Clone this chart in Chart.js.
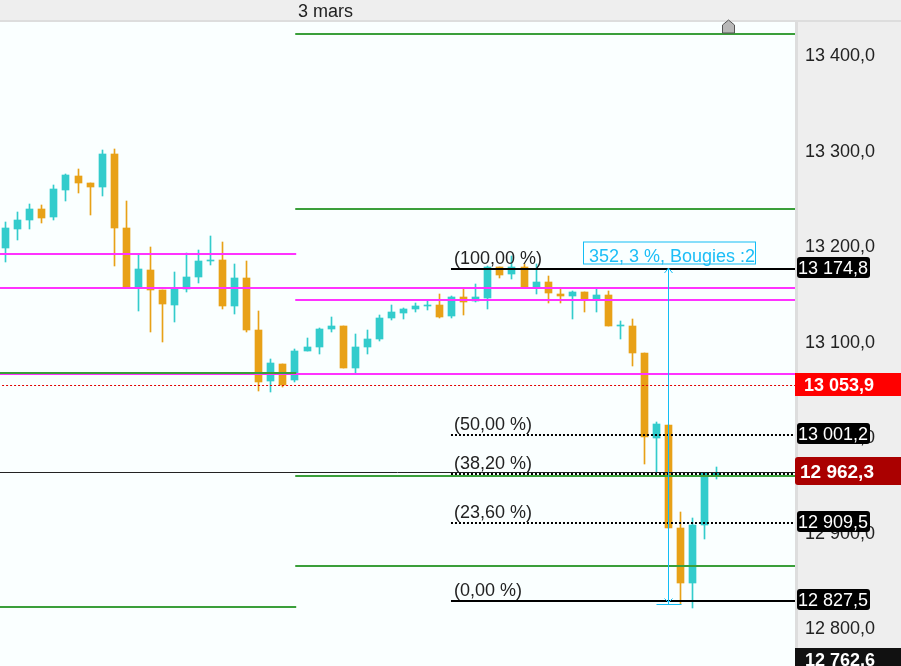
<!DOCTYPE html>
<html lang="fr">
<head>
<meta charset="utf-8">
<title>3 mars</title>
<style>
    html, body { margin: 0; padding: 0; background: #eeeeee; overflow: hidden; }
    canvas { display: block; }
</style>
<script src="https://cdn.jsdelivr.net/npm/chart.js@4/dist/chart.umd.min.js"></script>
</head>
<body>
<canvas id="candleChart" width="901" height="666"></canvas>
<script>
/* ==========================================
   DATA
========================================== */

const opens = [
    13197.1, 13217.0, 13226.4, 13238.0, 13229.6, 13257.9, 13272.5, 13265.2, 13261.0, 13295.5,
    13218.1, 13155.2, 13174.1, 13153.1, 13137.4, 13154.2, 13166.8, 13183.5, 13184.6, 13136.4,
    13165.7, 13111.3, 13057.9, 13075.7, 13058.9, 13089.3, 13093.5, 13112.3, 13115.4, 13071.5,
    13093.5, 13101.8, 13123.8, 13129.1, 13133.2, 13136.4, 13137.4, 13125.9, 13145.8, 13141.6,
    13144.8, 13177.2, 13169.9, 13177.2, 13156.3, 13161.5, 13149.0, 13146.9, 13151.0, 13142.7,
    13147.9, 13115.4, 13115.4, 13087.2, 12998.2, 13011.8, 12903.9, 12846.3, 12907.1, 12959.4
];
const highs = [
    13224.3, 13234.8, 13243.2, 13242.1, 13263.1, 13274.6, 13279.8, 13265.2, 13299.7, 13300.8,
    13246.3, 13189.8, 13198.2, 13153.1, 13172.0, 13191.9, 13195.0, 13209.7, 13203.4, 13180.4,
    13183.5, 13131.2, 13080.9, 13075.7, 13091.4, 13102.9, 13113.4, 13124.9, 13115.4, 13107.1,
    13111.3, 13127.0, 13137.4, 13134.3, 13139.5, 13141.6, 13149.0, 13146.9, 13154.2, 13159.4,
    13178.3, 13177.2, 13188.7, 13180.4, 13180.4, 13167.8, 13154.2, 13152.1, 13151.0, 13154.2,
    13152.1, 13120.7, 13122.8, 13087.2, 13014.9, 13011.8, 12920.7, 12914.4, 12961.5, 12967.8
];
const lows = [
    13182.5, 13205.5, 13217.0, 13223.3, 13226.4, 13246.3, 13254.7, 13231.7, 13251.6, 13178.3,
    13155.2, 13131.2, 13109.2, 13098.7, 13119.6, 13151.0, 13160.5, 13179.3, 13133.2, 13128.0,
    13109.2, 13047.4, 13046.3, 13051.6, 13056.8, 13089.3, 13086.1, 13109.2, 13071.5, 13065.2,
    13086.1, 13099.7, 13121.7, 13122.8, 13130.1, 13132.2, 13123.8, 13123.8, 13127.0, 13140.6,
    13133.2, 13165.7, 13164.7, 13156.3, 13149.0, 13139.5, 13139.5, 13122.8, 13130.1, 13130.1,
    13115.4, 13101.8, 13073.6, 12970.9, 12962.6, 12903.9, 12824.4, 12820.2, 12892.4, 12955.2
];
const closes = [
    13218.1, 13226.4, 13238.0, 13228.5, 13258.9, 13273.6, 13265.2, 13261.0, 13295.5, 13218.1,
    13156.3, 13175.1, 13153.1, 13138.5, 13155.2, 13166.8, 13183.5, 13184.6, 13136.4, 13165.7,
    13111.3, 13056.8, 13076.7, 13053.7, 13089.3, 13093.5, 13112.3, 13115.4, 13071.5, 13093.5,
    13101.8, 13123.8, 13130.1, 13133.2, 13136.4, 13137.4, 13124.9, 13145.8, 13140.6, 13145.8,
    13177.2, 13168.9, 13177.2, 13156.3, 13161.5, 13150.0, 13146.9, 13151.0, 13142.7, 13147.9,
    13115.4, 13116.5, 13087.2, 12999.2, 13012.8, 12903.9, 12846.3, 12907.1, 12961.5, 12961.5
];

const tickValues = [13400, 13300, 13200, 13100, 13000, 12900, 12800];

const greenLevelsRight = [13421.2, 13238.0, 12958.4, 12864.1];
const greenLevelsLeft = [13066.2, 12821.2];
const magentaLevelsLeft = [13190.8];
const magentaLevelsFull = [13155.2, 13065.2];
const magentaLevelsRight = [13142.7];

const fibLabels = ["(100,00 %)", "(50,00 %)", "(38,20 %)", "(23,60 %)", "(0,00 %)"];
const fibLevels = [13174.8, 13001.2, 12960.3, 12909.5, 12827.5];

const lastPrice = 12962.3;
const dottedPrice = 13053.9;
const bottomPrice = 12762.6;

const dateLabel = "3 mars";
const measureLabel = "352, 3 %, Bougies :2";

/* ==========================================
   SCALE LIMITS
========================================== */

const X_MIN = -0.4729;
const X_MAX = 65.48;
const Y_MIN = 12759.4;
const Y_MAX = 13433.8;

const SPLIT_LEFT = 24.1;
const SPLIT_RIGHT = 24.02;
const FIB_INDEX = 36.94;
const MEASURE_INDEX = 55;
const MARKER_INDEX = 60;

const UP_COLOR = "#33CCCC";
const DOWN_COLOR = "#E8A117";
const GREEN = "#3A9F3A";
const MAGENTA = "#FF33FF";
const CYAN = "#12BDF5";
const FONT = '"Liberation Sans", Arial, sans-serif';

/* ==========================================
   HELPERS
========================================== */

function formatPrice(value) {
    const parts = value.toFixed(1).split(".");
    return parts[0].replace(/\B(?=(\d{3})+$)/g, " ") + "," + parts[1];
}

function levelLine(level, from, to, color, width, dash) {
    return {
        type: "line",
        data: [{ x: from, y: level }, { x: to, y: level }],
        borderColor: color,
        borderWidth: width,
        borderDash: dash || [],
        pointRadius: 0,
        order: 0
    };
}

function roundedBox(ctx, x, y, w, h, r, color) {
    ctx.fillStyle = color;
    ctx.beginPath();
    ctx.roundRect(x, y, w, h, r);
    ctx.fill();
}

function badgeText(ctx, text, x, y, font) {
    ctx.fillStyle = "#ffffff";
    ctx.font = font;
    ctx.textAlign = "left";
    ctx.textBaseline = "middle";
    ctx.fillText(text, x, y);
}

/* ==========================================
   DATASETS
========================================== */

const candleColors = closes.map((close, i) => close >= opens[i] ? UP_COLOR : DOWN_COLOR);

const wickDataset = {
    type: "bar",
    data: highs.map((high, i) => ({ x: i, y: [lows[i], high] })),
    backgroundColor: candleColors,
    barThickness: 1,
    grouped: false,
    order: 2
};

const bodyDataset = {
    type: "bar",
    data: opens.map((open, i) => ({ x: i, y: [open, closes[i]] })),
    backgroundColor: candleColors,
    barThickness: 7,
    grouped: false,
    order: 1
};

const levelDatasets = [
    ...greenLevelsRight.map(level => levelLine(level, SPLIT_RIGHT, X_MAX, GREEN, 2)),
    ...greenLevelsLeft.map(level => levelLine(level, X_MIN, SPLIT_LEFT, GREEN, 2)),
    ...magentaLevelsLeft.map(level => levelLine(level, X_MIN, SPLIT_LEFT, MAGENTA, 2)),
    ...magentaLevelsFull.map(level => levelLine(level, X_MIN, X_MAX, MAGENTA, 2)),
    ...magentaLevelsRight.map(level => levelLine(level, SPLIT_RIGHT, X_MAX, MAGENTA, 2)),
    levelLine(lastPrice, X_MIN, X_MAX, "#222222", 1),
    levelLine(dottedPrice, -0.3, X_MAX, "#E00000", 1, [2, 2]),
    levelLine(fibLevels[0], FIB_INDEX, X_MAX, "#000000", 2),
    levelLine(fibLevels[1], FIB_INDEX, X_MAX, "#000000", 2, [2, 2]),
    levelLine(fibLevels[2], FIB_INDEX, X_MAX, "#000000", 2, [2, 2]),
    levelLine(fibLevels[3], FIB_INDEX, X_MAX, "#000000", 2, [2, 2]),
    levelLine(fibLevels[4], FIB_INDEX, X_MAX, "#000000", 2)
];

/* ==========================================
   PLUGINS
========================================== */

// candles and lines sit on whole pixels on the trading screen
const snapPlugin = {
    id: "snap",
    afterDatasetsUpdate(chart) {
        chart.getSortedVisibleDatasetMetas().forEach(meta => {
            meta.data.forEach(el => {
                if (meta.type === "bar") {
                    el.x = Math.floor(el.x) + 0.5;
                    el.base = Math.round(el.base);
                    el.y = Math.round(el.y);
                } else {
                    const odd = meta.dataset.options.borderWidth % 2 === 1;
                    el.y = Math.round(el.y) + (odd ? 0.5 : 0);
                }
            });
        });
    }
};

const backgroundPlugin = {
    id: "background",
    beforeDraw(chart) {
        const { ctx, chartArea: area } = chart;
        ctx.save();
        ctx.fillStyle = "#EEEEEE";
        ctx.fillRect(0, 0, chart.width, chart.height);
        ctx.fillStyle = "#FAFFFF";
        ctx.fillRect(area.left, area.top, area.right - area.left, area.bottom - area.top);
        ctx.fillStyle = "#DDDDDD";
        ctx.fillRect(0, area.top - 2, chart.width, 2);
        ctx.fillRect(area.right, area.top - 2, 3, area.bottom - area.top + 2);
        ctx.restore();
    }
};

const overlayPlugin = {
    id: "overlay",
    afterDraw(chart) {
        const { ctx, scales } = chart;
        const px = v => Math.floor(scales.x.getPixelForValue(v));
        const py = v => Math.round(scales.y.getPixelForValue(v));

        ctx.save();

        // date on the top strip
        ctx.fillStyle = "#222222";
        ctx.font = "18px " + FONT;
        ctx.textAlign = "left";
        ctx.textBaseline = "middle";
        ctx.fillText(dateLabel, px(SPLIT_RIGHT) + 3, 12);

        // fibonacci labels
        fibLabels.forEach((label, i) => {
            ctx.fillText(label, px(FIB_INDEX) + 4, py(fibLevels[i]) - 10);
        });

        // measure tool
        const mx = px(MEASURE_INDEX) + 0.5;
        const top = py(fibLevels[0]) - 1;
        const bottom = py(fibLevels[4]) + 3.5;
        ctx.strokeStyle = CYAN;
        ctx.lineWidth = 1;
        ctx.beginPath();
        ctx.moveTo(mx, top);
        ctx.lineTo(mx, bottom);
        ctx.moveTo(mx - 12, bottom);
        ctx.lineTo(mx + 13, bottom);
        ctx.moveTo(mx - 4, top + 5);
        ctx.lineTo(mx, top);
        ctx.lineTo(mx + 4, top + 5);
        ctx.moveTo(mx - 4, bottom - 6);
        ctx.lineTo(mx, bottom - 2);
        ctx.lineTo(mx + 4, bottom - 6);
        ctx.stroke();

        ctx.fillStyle = "#FAFFFF";
        ctx.fillRect(mx - 85, top - 26, 172, 22);
        ctx.strokeRect(mx - 85, top - 26, 172, 22);
        ctx.fillStyle = "#1CBEF7";
        ctx.fillText(measureLabel, mx - 79.5, top - 11);

        // small house marker on the top line
        const hx = px(MARKER_INDEX) + 0.5;
        const hy = py(greenLevelsRight[0]);
        ctx.fillStyle = "#B8B8B8";
        ctx.strokeStyle = "#555555";
        ctx.beginPath();
        ctx.moveTo(hx - 6, hy - 1);
        ctx.lineTo(hx - 6, hy - 9);
        ctx.lineTo(hx, hy - 14);
        ctx.lineTo(hx + 6, hy - 9);
        ctx.lineTo(hx + 6, hy - 1);
        ctx.closePath();
        ctx.fill();
        ctx.stroke();

        // black price badges
        const axisX = chart.chartArea.right;
        fibLevels.forEach((level, i) => {
            if (i === 2) return;
            const y = py(level) - 1.5;
            roundedBox(ctx, axisX + 2, y - 10.5, 73, 21, 3, "#000000");
            badgeText(ctx, formatPrice(level), axisX + 3, y + 2, "18px " + FONT);
        });

        // current price boxes
        const redY = py(dottedPrice);
        ctx.fillStyle = "#FF0000";
        ctx.fillRect(axisX, redY - 12, 106, 23);
        badgeText(ctx, formatPrice(dottedPrice), axisX + 9, redY + 1, "bold 18px " + FONT);

        const lastY = py(lastPrice);
        roundedBox(ctx, axisX, lastY - 15, 106, 28, [3, 0, 0, 3], "#AA0000");
        badgeText(ctx, formatPrice(lastPrice), axisX + 5, lastY + 1, "bold 19px " + FONT);

        ctx.fillStyle = "#111111";
        ctx.fillRect(axisX, py(bottomPrice) - 15, 106, 18);
        badgeText(ctx, formatPrice(bottomPrice), axisX + 10, py(bottomPrice) - 2, "bold 18px " + FONT);

        ctx.restore();
    }
};

/* ==========================================
   CHART
========================================== */

new Chart(document.getElementById("candleChart"), {
    data: {
        datasets: [...levelDatasets, bodyDataset, wickDataset]
    },
    options: {
        responsive: false,
        animation: false,
        events: [],
        layout: {
            padding: { top: 22 }
        },
        plugins: {
            legend: { display: false },
            tooltip: { enabled: false }
        },
        scales: {
            x: {
                type: "linear",
                display: false,
                offset: false,
                min: X_MIN,
                max: X_MAX
            },
            y: {
                type: "linear",
                position: "right",
                min: Y_MIN,
                max: Y_MAX,
                afterFit(scale) {
                    scale.width = 106;
                    scale.paddingTop = 0;
                    scale.paddingBottom = 0;
                },
                afterBuildTicks(scale) {
                    scale.ticks = tickValues.map(value => ({ value }));
                },
                grid: { display: false, drawTicks: false },
                border: { display: false },
                ticks: {
                    padding: 10,
                    labelOffset: 2,
                    color: "#222222",
                    font: { family: FONT, size: 18 },
                    autoSkip: false,
                    maxRotation: 0,
                    callback: value => formatPrice(value)
                }
            }
        }
    },
    plugins: [backgroundPlugin, snapPlugin, overlayPlugin]
});
</script>
</body>
</html>
